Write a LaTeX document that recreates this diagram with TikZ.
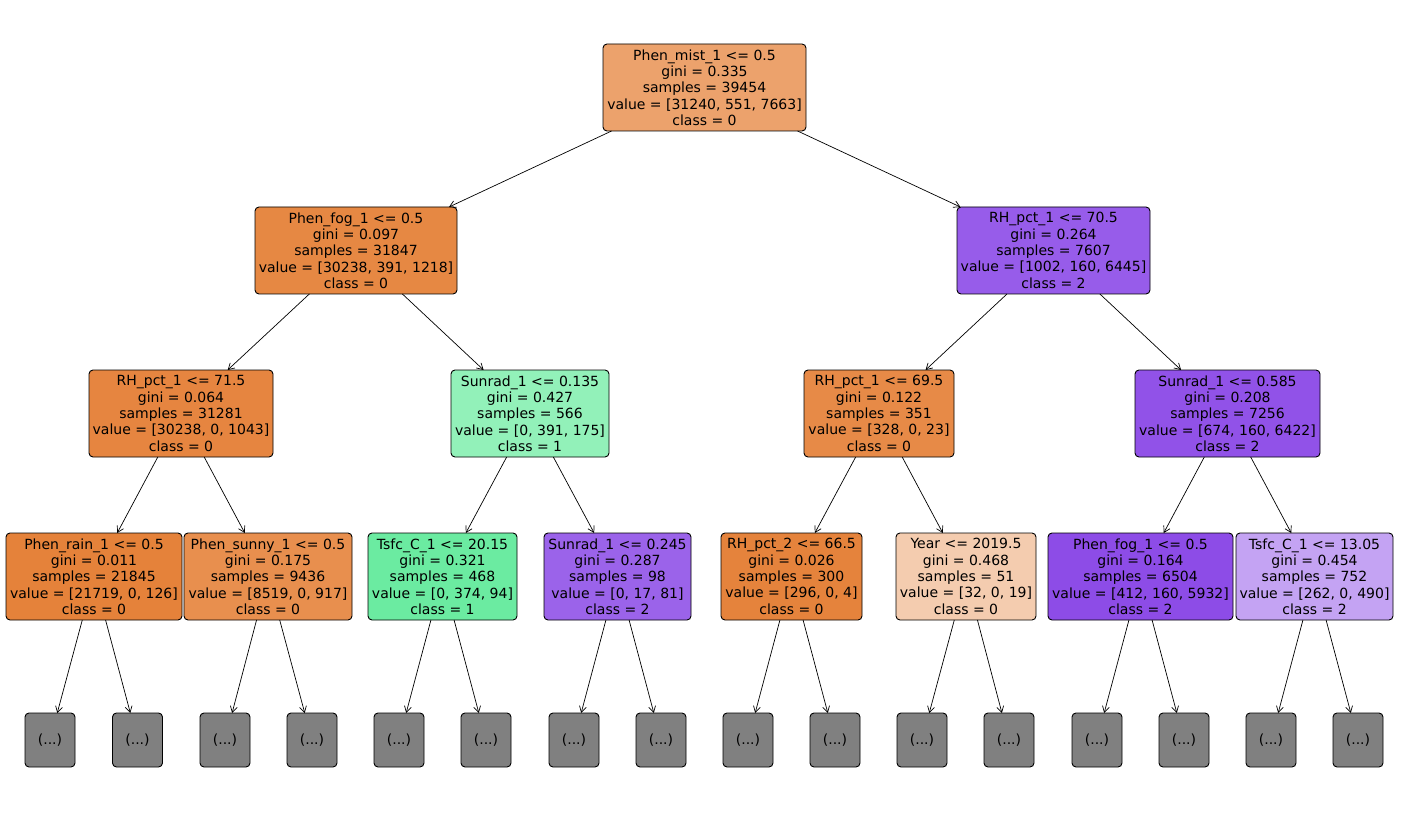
\documentclass[tikz,border=0pt]{standalone}
\usepackage{fontspec}
\setmainfont{DejaVu Sans}
\usetikzlibrary{arrows.meta}
\definecolor{cRoot}{RGB}{236,162,108}
\definecolor{cA}{RGB}{230,136,67}
\definecolor{cB}{RGB}{151,92,234}
\definecolor{cAA}{RGB}{230,133,64}
\definecolor{cAB}{RGB}{146,241,185}
\definecolor{cBA}{RGB}{231,138,71}
\definecolor{cBB}{RGB}{145,82,232}
\definecolor{cAAA}{RGB}{229,130,58}
\definecolor{cAAB}{RGB}{232,143,78}
\definecolor{cABA}{RGB}{107,235,161}
\definecolor{cABB}{RGB}{155,99,234}
\definecolor{cBAA}{RGB}{229,131,60}
\definecolor{cBAB}{RGB}{244,204,175}
\definecolor{cBBA}{RGB}{141,76,231}
\definecolor{cBBB}{RGB}{196,163,243}
\definecolor{cLeaf}{RGB}{128,128,128}
\tikzset{
  tree/.style={draw=black, line width=0.9pt, rounded corners=4pt, minimum height=87pt,
    inner sep=0pt, outer sep=0pt, align=center,
    font=\fontsize{14pt}{16.3pt}\selectfont},
  leaf/.style={draw=black, line width=0.9pt, rounded corners=4pt, fill=cLeaf,
    minimum width=50pt, minimum height=54pt, inner sep=0pt, outer sep=0pt,
    font=\fontsize{14pt}{16.3pt}\selectfont},
  edge/.style={line width=0.7pt, -{Straight Barb[length=6pt,width=7pt]}}
}
\begin{document}
\begin{tikzpicture}[x=1pt,y=-1pt]
\useasboundingbox (0,0) rectangle (1409,829);
\fill[white] (0,0) rectangle (1409,829);
% root
\node[tree, fill=cRoot, minimum width=203pt] (r) at (704.5,87.5) {Phen\_mist\_1 <= 0.5\\gini = 0.335\\samples = 39454\\value = [31240, 551, 7663]\\class = 0};
% level 1
\node[tree, fill=cA, minimum width=202pt] (a) at (356,250.5) {Phen\_fog\_1 <= 0.5\\gini = 0.097\\samples = 31847\\value = [30238, 391, 1218]\\class = 0};
\node[tree, fill=cB, minimum width=193pt] (b) at (1053.5,250.5) {RH\_pct\_1 <= 70.5\\gini = 0.264\\samples = 7607\\value = [1002, 160, 6445]\\class = 2};
% level 2
\node[tree, fill=cAA, minimum width=184pt] (aa) at (181,413.5) {RH\_pct\_1 <= 71.5\\gini = 0.064\\samples = 31281\\value = [30238, 0, 1043]\\class = 0};
\node[tree, fill=cAB, minimum width=158pt] (ab) at (530,413.5) {Sunrad\_1 <= 0.135\\gini = 0.427\\samples = 566\\value = [0, 391, 175]\\class = 1};
\node[tree, fill=cBA, minimum width=150pt] (ba) at (879,413.5) {RH\_pct\_1 <= 69.5\\gini = 0.122\\samples = 351\\value = [328, 0, 23]\\class = 0};
\node[tree, fill=cBB, minimum width=185pt] (bb) at (1227.5,413.5) {Sunrad\_1 <= 0.585\\gini = 0.208\\samples = 7256\\value = [674, 160, 6422]\\class = 2};
% level 3
\node[tree, fill=cAAA, minimum width=176pt] (aaa) at (94,576.5) {Phen\_rain\_1 <= 0.5\\gini = 0.011\\samples = 21845\\value = [21719, 0, 126]\\class = 0};
\node[tree, fill=cAAB, minimum width=168pt] (aab) at (268,576.5) {Phen\_sunny\_1 <= 0.5\\gini = 0.175\\samples = 9436\\value = [8519, 0, 917]\\class = 0};
\node[tree, fill=cABA, minimum width=149pt] (aba) at (442.5,576.5) {Tsfc\_C\_1 <= 20.15\\gini = 0.321\\samples = 468\\value = [0, 374, 94]\\class = 1};
\node[tree, fill=cABB, minimum width=147pt] (abb) at (617.5,576.5) {Sunrad\_1 <= 0.245\\gini = 0.287\\samples = 98\\value = [0, 17, 81]\\class = 2};
\node[tree, fill=cBAA, minimum width=141pt] (baa) at (791.5,576.5) {RH\_pct\_2 <= 66.5\\gini = 0.026\\samples = 300\\value = [296, 0, 4]\\class = 0};
\node[tree, fill=cBAB, minimum width=140pt] (bab) at (966,576.5) {Year <= 2019.5\\gini = 0.468\\samples = 51\\value = [32, 0, 19]\\class = 0};
\node[tree, fill=cBBA, minimum width=185pt] (bba) at (1140.5,576.5) {Phen\_fog\_1 <= 0.5\\gini = 0.164\\samples = 6504\\value = [412, 160, 5932]\\class = 2};
\node[tree, fill=cBBB, minimum width=157pt] (bbb) at (1314.5,576.5) {Tsfc\_C\_1 <= 13.05\\gini = 0.454\\samples = 752\\value = [262, 0, 490]\\class = 2};
% leaves
\node[leaf] (l1) at (50,740) {(...)};
\node[leaf] (l2) at (137.5,740) {(...)};
\node[leaf] (l3) at (225,740) {(...)};
\node[leaf] (l4) at (312,740) {(...)};
\node[leaf] (l5) at (399,740) {(...)};
\node[leaf] (l6) at (486,740) {(...)};
\node[leaf] (l7) at (574,740) {(...)};
\node[leaf] (l8) at (661,740) {(...)};
\node[leaf] (l9) at (748,740) {(...)};
\node[leaf] (l10) at (835,740) {(...)};
\node[leaf] (l11) at (922,740) {(...)};
\node[leaf] (l12) at (1009,740) {(...)};
\node[leaf] (l13) at (1097,740) {(...)};
\node[leaf] (l14) at (1184,740) {(...)};
\node[leaf] (l15) at (1271,740) {(...)};
\node[leaf] (l16) at (1358,740) {(...)};
% edges
\draw[edge] (r) -- (a);
\draw[edge] (r) -- (b);
\draw[edge] (a) -- (aa);
\draw[edge] (a) -- (ab);
\draw[edge] (b) -- (ba);
\draw[edge] (b) -- (bb);
\draw[edge] (aa) -- (aaa);
\draw[edge] (aa) -- (aab);
\draw[edge] (ab) -- (aba);
\draw[edge] (ab) -- (abb);
\draw[edge] (ba) -- (baa);
\draw[edge] (ba) -- (bab);
\draw[edge] (bb) -- (bba);
\draw[edge] (bb) -- (bbb);
\draw[edge] (aaa) -- (l1);
\draw[edge] (aaa) -- (l2);
\draw[edge] (aab) -- (l3);
\draw[edge] (aab) -- (l4);
\draw[edge] (aba) -- (l5);
\draw[edge] (aba) -- (l6);
\draw[edge] (abb) -- (l7);
\draw[edge] (abb) -- (l8);
\draw[edge] (baa) -- (l9);
\draw[edge] (baa) -- (l10);
\draw[edge] (bab) -- (l11);
\draw[edge] (bab) -- (l12);
\draw[edge] (bba) -- (l13);
\draw[edge] (bba) -- (l14);
\draw[edge] (bbb) -- (l15);
\draw[edge] (bbb) -- (l16);
\end{tikzpicture}
\end{document}
